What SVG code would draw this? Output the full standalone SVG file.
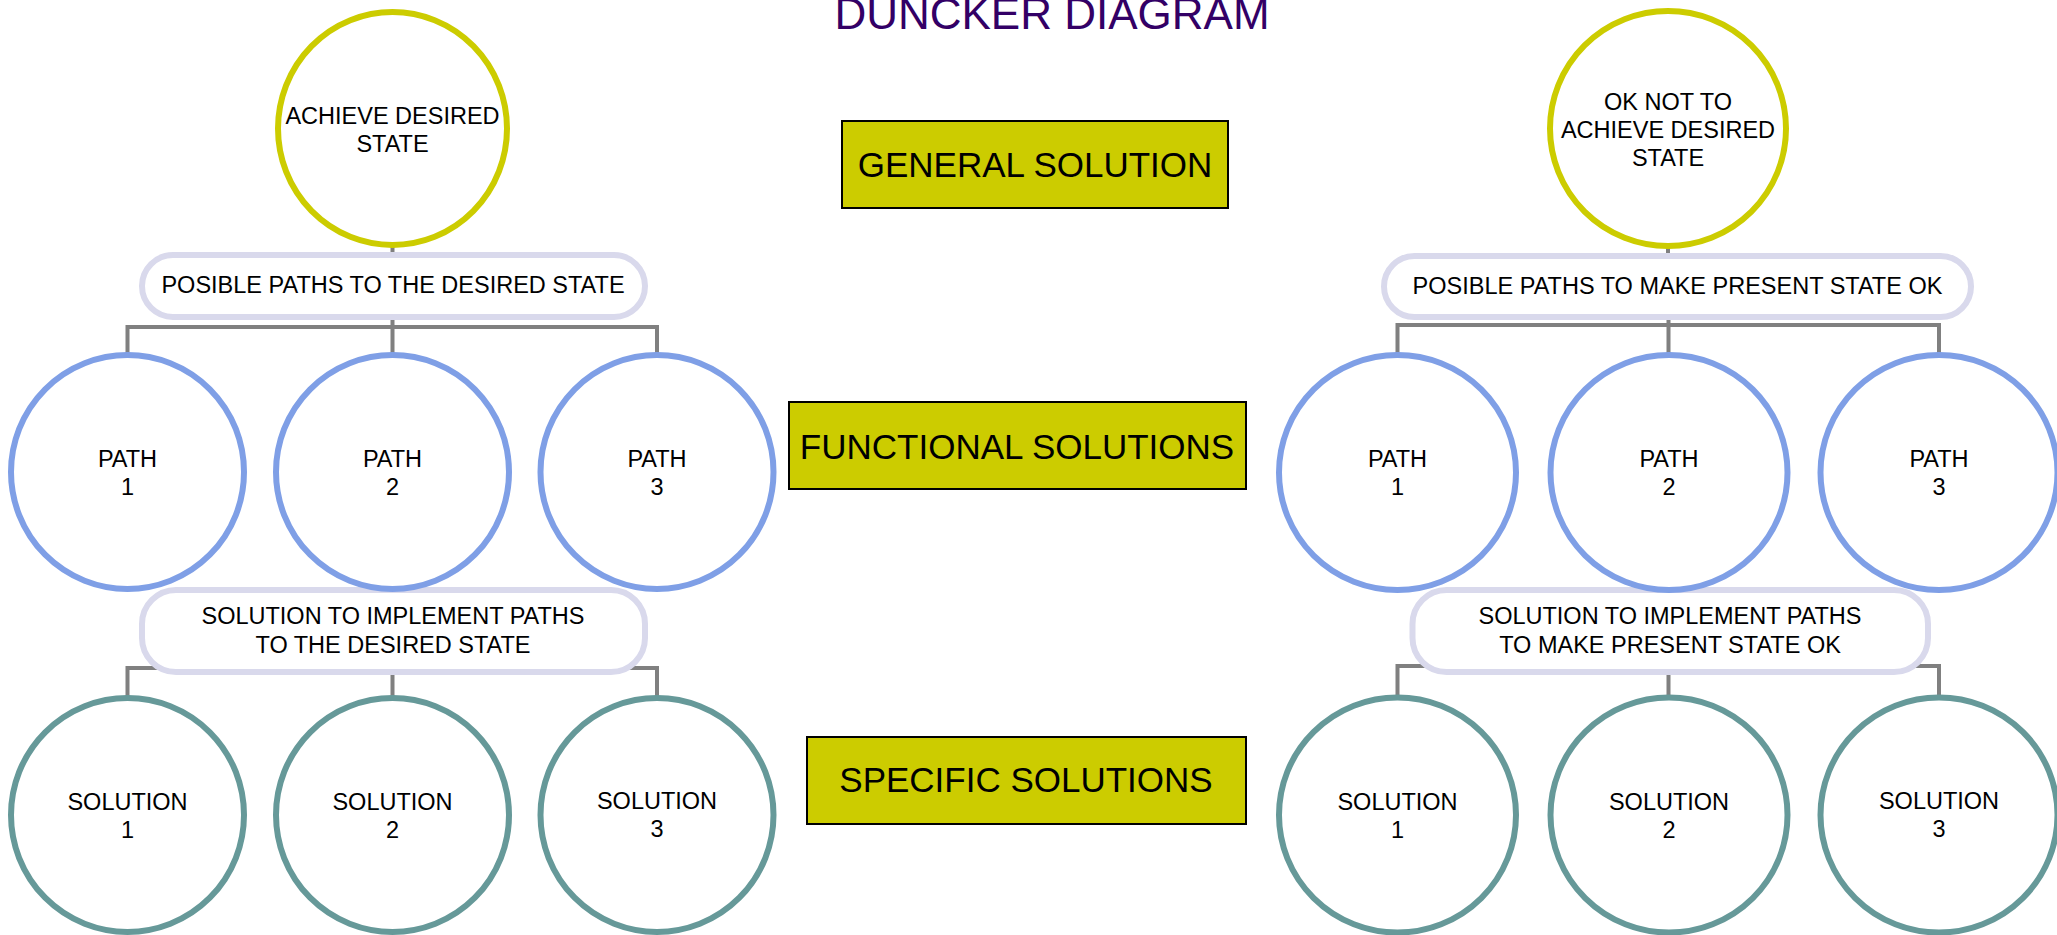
<svg xmlns="http://www.w3.org/2000/svg" width="2057" height="935" viewBox="0 0 2057 935">
  <style>
    .lbl { font-family: "Liberation Sans", Arial, sans-serif; font-size: 23.5px; fill: #000; text-anchor: middle; }
    .band { font-family: "Liberation Sans", Arial, sans-serif; font-size: 35px; fill: #000; text-anchor: middle; }
    .title { font-family: "Liberation Sans", Arial, sans-serif; font-size: 44px; fill: #330066; text-anchor: middle; }
    .goal { fill: #fff; stroke: #CCCC00; stroke-width: 6; }
    .path { fill: #fff; stroke: #7F9FE6; stroke-width: 6; }
    .sol { fill: #fff; stroke: #669999; stroke-width: 6; }
    .pill { fill: #fff; stroke: #D9D9EC; stroke-width: 6; }
    .level { fill: #CCCC00; stroke: #000; stroke-width: 2; }
    .wire { fill: none; stroke: #808080; stroke-width: 4; }
  </style>
  <rect width="2057" height="935" fill="#fff"/>

  <text class="title" x="1052" y="29">DUNCKER DIAGRAM</text>

  <!-- connectors -->
  <g id="connectors">
    <path class="wire" d="M392.5 246 V256"/>
    <path class="wire" d="M127.5 354 V327 H657 V354 M392.5 318 V354"/>
    <path class="wire" d="M127.5 697 V668 H657 V697 M392.5 673 V697"/>
    <path class="wire" d="M1668 247 V257"/>
    <path class="wire" d="M1397.5 354 V325 H1939 V354 M1668.5 318 V354"/>
    <path class="wire" d="M1397.5 697 V666 H1939 V697 M1668.5 673 V697"/>
  </g>

  <!-- level bands -->
  <g id="general-solution">
    <rect class="level" x="842" y="121" width="386" height="87"/>
    <text class="band" x="1035" y="177">GENERAL SOLUTION</text>
  </g>
  <g id="functional-solutions">
    <rect class="level" x="789" y="402" width="457" height="87"/>
    <text class="band" x="1017" y="459">FUNCTIONAL SOLUTIONS</text>
  </g>
  <g id="specific-solutions">
    <rect class="level" x="807" y="737" width="439" height="87"/>
    <text class="band" x="1026" y="792">SPECIFIC SOLUTIONS</text>
  </g>

  <!-- left tree -->
  <g id="achieve-desired-state">
    <ellipse class="goal" cx="392.5" cy="128.5" rx="114.5" ry="116.5"/>
    <text class="lbl" x="392.5" y="124">ACHIEVE DESIRED<tspan x="392.5" y="152">STATE</tspan></text>
  </g>
  <g id="paths-desired">
    <rect class="pill" x="142" y="255" width="503" height="62" rx="31"/>
    <text class="lbl" x="393" y="293">POSIBLE PATHS TO THE DESIRED STATE</text>
  </g>
  <g id="impl-desired">
    <rect class="pill" x="142" y="590" width="503" height="82" rx="34"/>
    <text class="lbl" x="393" y="624">SOLUTION TO IMPLEMENT PATHS<tspan x="393" y="653">TO THE DESIRED STATE</tspan></text>
  </g>
  <g id="left-path-1">
    <ellipse class="path" cx="127.5" cy="472" rx="116.5" ry="117"/>
    <text class="lbl" x="127.5" y="467">PATH<tspan x="127.5" y="495">1</tspan></text>
  </g>
  <g id="left-path-2">
    <ellipse class="path" cx="392.5" cy="472" rx="116.5" ry="117"/>
    <text class="lbl" x="392.5" y="467">PATH<tspan x="392.5" y="495">2</tspan></text>
  </g>
  <g id="left-path-3">
    <ellipse class="path" cx="657" cy="472" rx="116.5" ry="117"/>
    <text class="lbl" x="657" y="467">PATH<tspan x="657" y="495">3</tspan></text>
  </g>
  <g id="left-solution-1">
    <ellipse class="sol" cx="127.5" cy="815" rx="116.5" ry="117"/>
    <text class="lbl" x="127.5" y="810">SOLUTION<tspan x="127.5" y="838">1</tspan></text>
  </g>
  <g id="left-solution-2">
    <ellipse class="sol" cx="392.5" cy="815" rx="116.5" ry="117"/>
    <text class="lbl" x="392.5" y="810">SOLUTION<tspan x="392.5" y="838">2</tspan></text>
  </g>
  <g id="left-solution-3">
    <ellipse class="sol" cx="657" cy="815" rx="116.5" ry="117"/>
    <text class="lbl" x="657" y="809">SOLUTION<tspan x="657" y="837">3</tspan></text>
  </g>

  <!-- right tree -->
  <g id="ok-not-to-achieve">
    <ellipse class="goal" cx="1668" cy="128.5" rx="118" ry="117.5"/>
    <text class="lbl" x="1668" y="110">OK NOT TO<tspan x="1668" y="138">ACHIEVE DESIRED</tspan><tspan x="1668" y="166">STATE</tspan></text>
  </g>
  <g id="paths-present">
    <rect class="pill" x="1384" y="256" width="587" height="61" rx="30.5"/>
    <text class="lbl" x="1677.5" y="294">POSIBLE PATHS TO MAKE PRESENT STATE OK</text>
  </g>
  <g id="impl-present">
    <rect class="pill" x="1412.5" y="590" width="515.5" height="82" rx="34"/>
    <text class="lbl" x="1670" y="624">SOLUTION TO IMPLEMENT PATHS<tspan x="1670" y="653">TO MAKE PRESENT STATE OK</tspan></text>
  </g>
  <g id="right-path-1">
    <ellipse class="path" cx="1397.5" cy="472.5" rx="118.5" ry="117.5"/>
    <text class="lbl" x="1397.5" y="467">PATH<tspan x="1397.5" y="495">1</tspan></text>
  </g>
  <g id="right-path-2">
    <ellipse class="path" cx="1669" cy="472.5" rx="118.5" ry="117.5"/>
    <text class="lbl" x="1669" y="467">PATH<tspan x="1669" y="495">2</tspan></text>
  </g>
  <g id="right-path-3">
    <ellipse class="path" cx="1939" cy="472.5" rx="118.5" ry="117.5"/>
    <text class="lbl" x="1939" y="467">PATH<tspan x="1939" y="495">3</tspan></text>
  </g>
  <g id="right-solution-1">
    <ellipse class="sol" cx="1397.5" cy="815" rx="118.5" ry="117.5"/>
    <text class="lbl" x="1397.5" y="810">SOLUTION<tspan x="1397.5" y="838">1</tspan></text>
  </g>
  <g id="right-solution-2">
    <ellipse class="sol" cx="1669" cy="815" rx="118.5" ry="117.5"/>
    <text class="lbl" x="1669" y="810">SOLUTION<tspan x="1669" y="838">2</tspan></text>
  </g>
  <g id="right-solution-3">
    <ellipse class="sol" cx="1939" cy="815" rx="118.5" ry="117.5"/>
    <text class="lbl" x="1939" y="809">SOLUTION<tspan x="1939" y="837">3</tspan></text>
  </g>
</svg>
